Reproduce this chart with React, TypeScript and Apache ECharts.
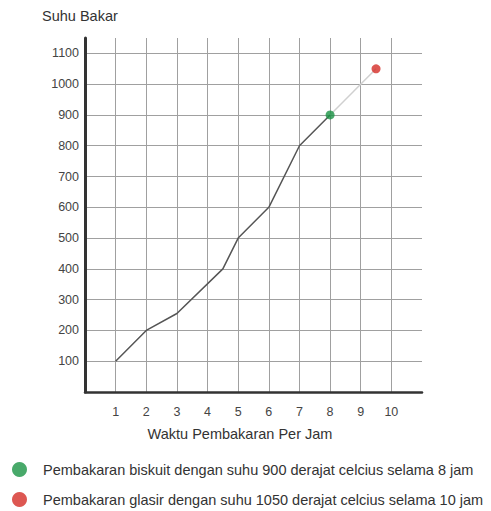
import React, { useEffect, useRef } from "react";
import * as echarts from "echarts";

const hours = [1, 2, 3, 4.5, 5, 6, 7, 8];
const temps = [100, 200, 255, 400, 500, 600, 800, 900];
const glazeHours = [8, 9.5];
const glazeTemps = [900, 1050];
const biscuitPoint = [8, 900];
const glazePoint = [9.5, 1050];
const xTicks = [1, 2, 3, 4, 5, 6, 7, 8, 9, 10];
const yTicks = [100, 200, 300, 400, 500, 600, 700, 800, 900, 1000, 1100];
const biscuitLabel = "Pembakaran biskuit dengan suhu 900 derajat celcius selama 8 jam";
const glazeLabel = "Pembakaran glasir dengan suhu 1050 derajat celcius selama 10 jam";
const yTitle = "Suhu Bakar";
const xTitle = "Waktu Pembakaran Per Jam";

const FONT = "Arial, 'Liberation Sans', sans-serif";

export default function App() {
  const ref = useRef<HTMLDivElement>(null);
  useEffect(() => {
    if (!ref.current) return;
    const chart = echarts.init(ref.current, undefined, { renderer: "svg" });
    chart.setOption({
      animation: false,
      backgroundColor: "#ffffff",
      textStyle: { fontFamily: FONT },
      grid: { left: 85, right: 69, top: 38, bottom: 119 },
      xAxis: {
        type: "value",
        min: 0,
        max: 11,
        interval: 1,
        axisLine: { show: true, lineStyle: { color: "#333", width: 2.5 } },
        axisTick: { show: false },
        axisLabel: {
          color: "#444",
          fontSize: 12.5,
          margin: 13,
          fontFamily: FONT,
          formatter: (v: number) => (xTicks.includes(v) ? String(v) : ""),
        },
        splitLine: {
          show: true,
          showMinLine: false,
          showMaxLine: false,
          lineStyle: { color: "#a0a0a0", width: 1 },
        },
      },
      yAxis: {
        type: "value",
        min: 0,
        max: 1150,
        interval: 100,
        axisLine: { show: true, lineStyle: { color: "#333", width: 3 } },
        axisTick: { show: false },
        axisLabel: {
          color: "#444",
          fontSize: 12.5,
          margin: 6,
          fontFamily: FONT,
          formatter: (v: number) => (yTicks.includes(v) ? String(v) : ""),
        },
        splitLine: {
          show: true,
          showMinLine: false,
          showMaxLine: false,
          lineStyle: { color: "#a0a0a0", width: 1 },
        },
      },
      legend: {
        orient: "vertical",
        left: 12,
        top: 462,
        padding: 0,
        itemGap: 15,
        itemWidth: 15,
        itemHeight: 15,
        icon: "circle",
        textStyle: { color: "#333", fontSize: 14.5, fontFamily: FONT, padding: [0, 0, 0, 11] },
        data: [biscuitLabel, glazeLabel],
      },
      graphic: [
        {
          type: "text",
          left: 42,
          top: 8,
          style: { text: yTitle, fill: "#333", font: `14.5px ${FONT}` },
        },
        {
          type: "text",
          x: 240,
          y: 434,
          style: {
            text: xTitle,
            fill: "#333",
            font: `14.5px ${FONT}`,
            align: "center",
            verticalAlign: "middle",
          },
        },
      ],
      series: [
        {
          name: "main",
          type: "line",
          data: hours.map((h, i) => [h, temps[i]]),
          showSymbol: false,
          symbol: "none",
          lineStyle: { color: "#555", width: 1.5 },
          z: 3,
        },
        {
          name: "glaze-line",
          type: "line",
          data: glazeHours.map((h, i) => [h, glazeTemps[i]]),
          symbol: "none",
          lineStyle: { color: "#d0d0d0", width: 1.5 },
          z: 2,
        },
        {
          name: biscuitLabel,
          type: "scatter",
          data: [biscuitPoint],
          symbolSize: 9,
          itemStyle: { color: "#1a9345" },
          z: 5,
        },
        {
          name: glazeLabel,
          type: "scatter",
          data: [glazePoint],
          symbolSize: 9,
          itemStyle: { color: "#d42d27" },
          z: 5,
        },
      ],
    });
    return () => chart.dispose();
  }, []);
  return (
    <div
      ref={ref}
      style={{ position: "fixed", left: 0, top: 0, width: 491, height: 511 }}
    />
  );
}
